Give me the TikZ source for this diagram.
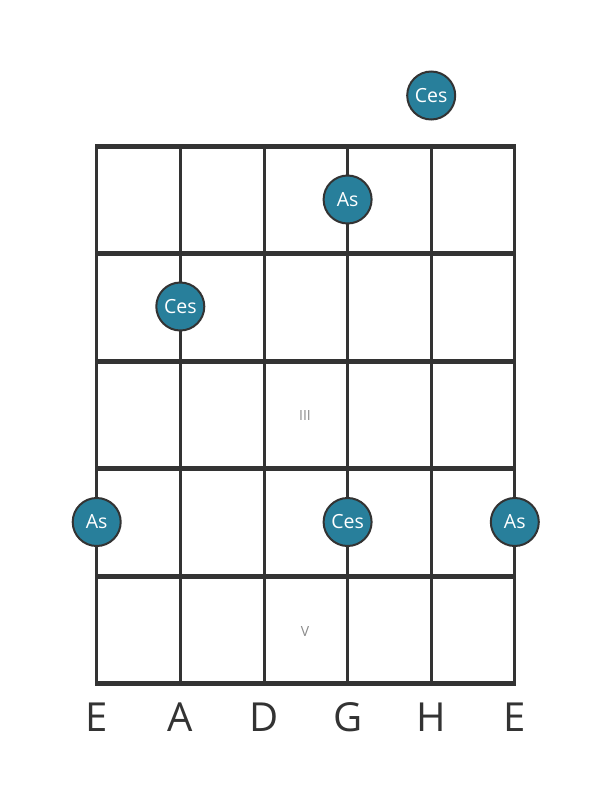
\documentclass[tikz,border=0pt]{standalone}
\usepackage{fontspec}
\setmainfont{Open Sans}
\definecolor{grid}{HTML}{333333}
\definecolor{dotfill}{HTML}{287F9B}
\definecolor{numgray}{HTML}{8A8A8A}
\begin{document}
\begin{tikzpicture}[x=1pt,y=-1pt,
  fretline/.style={line width=5pt,color=grid},
  stringline/.style={line width=3pt,color=grid},
  notedot/.style={circle,draw=grid,line width=2pt,fill=dotfill,minimum size=48pt,inner sep=0pt,text=white,font=\fontsize{19.5}{19.5}\selectfont},
  strlabel/.style={text=grid,font=\fontsize{40}{40}\selectfont,anchor=base},
  fretnum/.style={text=numgray,font=\fontsize{14}{14}\selectfont}]
\useasboundingbox (0,0) rectangle (611,801);
% strings
\foreach \i/\x in {1/96.7,2/180.3,3/264,4/347.6,5/431.2,6/514.8}{
  \coordinate (st\i) at (\x,146);
  \coordinate (sb\i) at (\x,683.7);
  \draw[stringline] (st\i) -- (sb\i);
}
% frets
\foreach \j/\y in {0/146,1/253.5,2/361,3/468.5,4/576,5/683.7}{
  \coordinate (fl\j) at (95.2,\y);
  \coordinate (fr\j) at (516.3,\y);
  \draw[fretline] (fl\j) -- (fr\j);
}
% fret numbers
\node[fretnum] (n3) at (305,415) {III};
\node[fretnum] (n5) at (305,631) {V};
% notes
\node[notedot] (c1) at (431.2,95.5) {Ces};
\node[notedot] (a1) at (347.6,199.5) {As};
\node[notedot] (c2) at (180.3,306.5) {Ces};
\node[notedot] (a2) at (96.7,522) {As};
\node[notedot] (c3) at (347.6,522) {Ces};
\node[notedot] (a3) at (514.8,522) {As};
% string labels
\foreach \i/\x/\t in {1/96.7/E,2/180.3/A,3/264/D,4/347.6/G,5/431.2/H,6/514.8/E}{
  \node[strlabel] (l\i) at (\x,731) {\t};
}
\end{tikzpicture}
\end{document}
